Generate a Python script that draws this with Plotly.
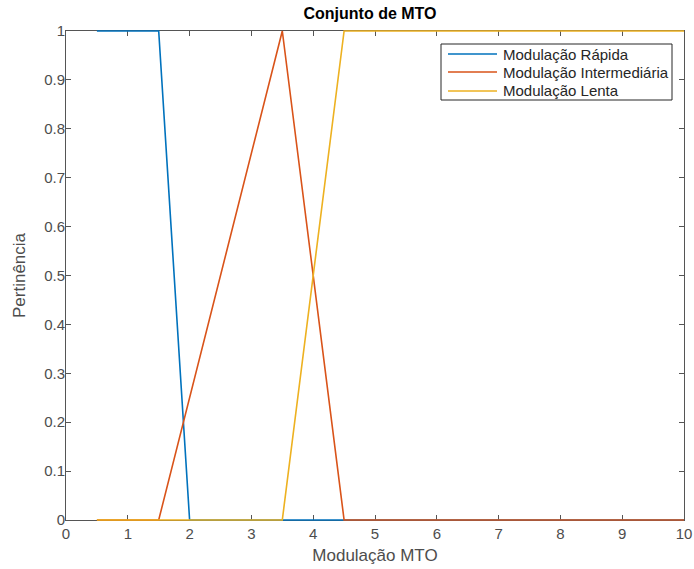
import plotly.graph_objects as go

# Membership functions for the MTO modulation fuzzy set
x_rapida = [0.5, 1.5, 2.0, 10.0]
y_rapida = [1, 1, 0, 0]

x_inter = [0.5, 1.5, 3.5, 4.5, 10.0]
y_inter = [0, 0, 1, 0, 0]

x_lenta = [0.5, 3.5, 4.5, 10.0]
y_lenta = [0, 0, 1, 1]

names = ["Modulação Rápida", "Modulação Intermediária", "Modulação Lenta"]
colors = ["#0072BD", "#D95319", "#EDB120"]

x_range = [0, 10]
y_range = [0, 1]
x_ticks = list(range(0, 11))
y_ticks = [round(0.1 * i, 1) for i in range(11)]
y_ticktext = ["0"] + [f"{v:.1f}" for v in y_ticks[1:-1]] + ["1"]

FONT = "Liberation Sans, Arial"
W, H = 694, 569
PAD = 3  # extra room so curves lying on the box edges are not clipped
L, R, T, B = 66 - PAD, 10 - PAD, 31 - PAD, 49 - PAD
PW, PH = W - L - R, H - T - B          # outer (curve) area
IW, IH = PW - 2 * PAD, PH - 2 * PAD    # inner (axes box) area


def px_x(p):
    return (p - L) / PW


def px_y(p):
    return 1 - (p - T) / PH


# Curve axes: same scale as the box axes, range widened by the padding
dx = (x_range[1] - x_range[0]) * PAD / IW
dy = (y_range[1] - y_range[0]) * PAD / IH

fig = go.Figure()
# empty trace that keeps the boxed axes subplot alive underneath the curves
fig.add_trace(go.Scatter(x=[], y=[], mode="lines", showlegend=False,
                         hoverinfo="skip", xaxis="x", yaxis="y"))
for xs, ys, name, color in zip([x_rapida, x_inter, x_lenta],
                               [y_rapida, y_inter, y_lenta], names, colors):
    fig.add_trace(go.Scatter(x=xs, y=ys, mode="lines", name=name, showlegend=False,
                             xaxis="x2", yaxis="y2",
                             line=dict(color=color, width=1.6)))

axis_common = dict(
    showgrid=False, zeroline=False, showline=True, linecolor="#555555", linewidth=1,
    mirror="ticks", ticks="inside", ticklen=5, tickcolor="#555555", automargin=False,
    tickfont=dict(family=FONT, size=15, color="#4d4d4d"),
)

# Boxed legend in the upper-right corner
shapes = [dict(type="rect", xref="paper", yref="paper",
               x0=px_x(441), x1=px_x(672), y0=px_y(100), y1=px_y(44),
               line=dict(color="#262626", width=1), fillcolor="white", layer="above")]
annotations = []
row_y = [54, 72, 91]
for name, color, ry in zip(names, colors, row_y):
    shapes.append(dict(type="line", xref="paper", yref="paper",
                       x0=px_x(448), x1=px_x(497), y0=px_y(ry), y1=px_y(ry),
                       line=dict(color=color, width=1.6), layer="above"))
    annotations.append(dict(text=name, xref="paper", yref="paper",
                            x=px_x(501), y=px_y(ry), xanchor="left", yanchor="middle",
                            showarrow=False,
                            font=dict(family=FONT, size=15, color="#262626")))

fig.update_layout(
    width=W, height=H,
    margin=dict(l=L, r=R, t=T, b=B),
    paper_bgcolor="white", plot_bgcolor="rgba(0,0,0,0)",
    title=dict(text="<b>Conjunto de MTO</b>", x=(370 / W), xanchor="center",
               y=1 - 13 / H, yanchor="middle",
               font=dict(family=FONT, size=16, color="black")),
    xaxis=dict(range=x_range, tickvals=x_ticks,
               domain=[PAD / PW, 1 - PAD / PW], anchor="y",
               title=dict(text="Modulação MTO", standoff=8,
                          font=dict(family=FONT, size=17, color="#4d4d4d")),
               **axis_common),
    yaxis=dict(range=y_range, tickvals=y_ticks, ticktext=y_ticktext,
               domain=[PAD / PH, 1 - PAD / PH], anchor="x",
               ticklabelstandoff=-3,
               title=dict(text="Pertinência", standoff=14,
                          font=dict(family=FONT, size=17, color="#4d4d4d")),
               **axis_common),
    xaxis2=dict(range=[x_range[0] - dx, x_range[1] + dx], domain=[0, 1],
                anchor="y2", visible=False, fixedrange=True),
    yaxis2=dict(range=[y_range[0] - dy, y_range[1] + dy], domain=[0, 1],
                anchor="x2", visible=False, fixedrange=True),
    shapes=shapes,
    annotations=annotations,
    showlegend=False,
)

fig.write_html("out.html")
